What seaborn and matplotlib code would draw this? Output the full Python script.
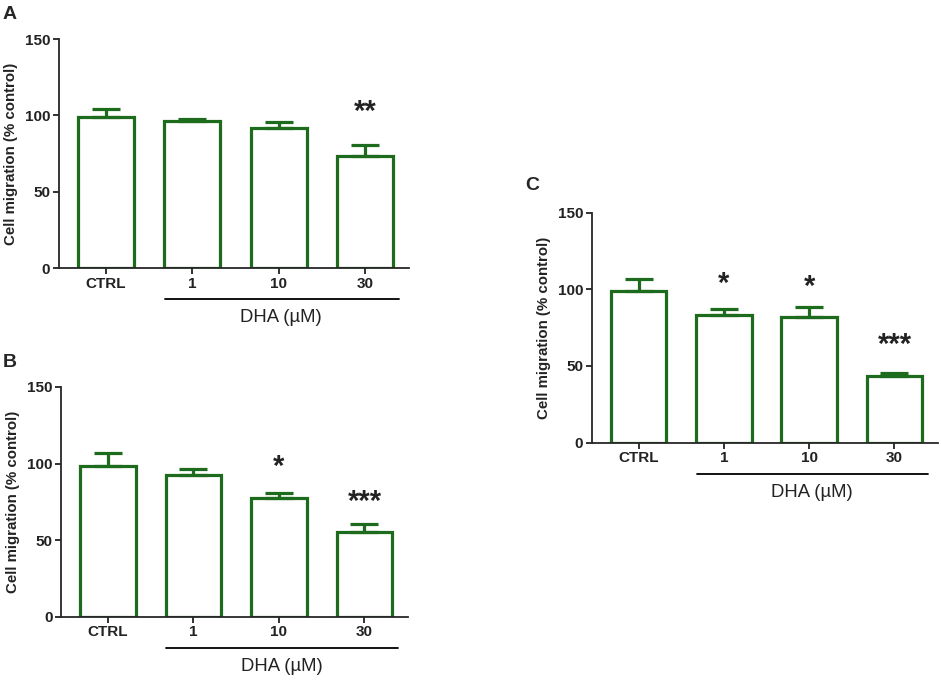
import matplotlib
matplotlib.use("Agg")
import matplotlib.pyplot as plt
import matplotlib.transforms as mtransforms
import seaborn as sns

# data
groups = ["CTRL", "1", "10", "30"]

a_mean = [99, 96.6, 92, 73.5]
a_upper = [104, 97.7, 95.7, 80.7]
a_stars = ["", "", "", "**"]
a_star_y = [0, 0, 0, 102.4]

b_mean = [98.5, 92.5, 77.7, 55.1]
b_upper = [106.6, 96.6, 80.5, 60.8]
b_stars = ["", "", "*", "***"]
b_star_y = [0, 0, 97.9, 75.1]

c_mean = [98.9, 83.5, 82, 43.5]
c_upper = [106.5, 87.4, 88.3, 45.2]
c_stars = ["", "*", "*", "***"]
c_star_y = [0, 103.3, 101.7, 63.7]

green = "#1d6b1d"

sns.set_style("ticks")
plt.rcParams["font.family"] = ["Liberation Sans", "DejaVu Sans"]

fig = plt.figure(figsize=(9.41, 6.81), dpi=100)


def panel(rect, means, upper, stars, star_y):
    ax = fig.add_axes(rect)
    sns.barplot(x=groups, y=means, color="white", saturation=1,
                edgecolor=green, linewidth=2.3, width=0.65, ax=ax)
    up = [u - m for u, m in zip(upper, means)]
    ax.errorbar(range(len(groups)), means, yerr=[[0] * len(up), up],
                fmt="none", ecolor=green, elinewidth=2.3, capsize=10,
                capthick=2.3, zorder=1)
    for i, s in enumerate(stars):
        if s:
            ax.text(i, star_y[i], s, ha="center", va="center",
                    fontsize=21, fontweight="bold", color="#222222")
    ax.set_ylim(0, 150)
    ax.set_xlim(-0.55, 3.51)
    ax.set_yticks([0, 50, 100, 150])
    sns.despine(ax=ax)
    ax.spines["left"].set_linewidth(1.3)
    ax.spines["bottom"].set_linewidth(1.3)
    ax.tick_params(axis="both", length=4, width=1.3, labelsize=11,
                   pad=2, colors="#222222")
    for t in ax.get_xticklabels() + ax.get_yticklabels():
        t.set_fontweight("bold")
    ax.set_ylabel("Cell migration (% control)", fontsize=10.8,
                  fontweight="bold", labelpad=5, color="#222222")
    ax.set_xlabel("")
    trans = mtransforms.blended_transform_factory(ax.transData, ax.transAxes)
    ax.plot([0.68, 3.39], [-0.135, -0.135], color="black", lw=1.3,
            transform=trans, clip_on=False)
    ax.text(2.03, -0.215, "DHA (µM)", ha="center", va="center",
            fontsize=13.3, transform=trans, color="#222222")
    return ax


panel([0.0622, 0.606, 0.3725, 0.3367], a_mean, a_upper, a_stars, a_star_y)
panel([0.0648, 0.094, 0.3688, 0.338], b_mean, b_upper, b_stars, b_star_y)
panel([0.6288, 0.35, 0.368, 0.3377], c_mean, c_upper, c_stars, c_star_y)

for x, y, letter in [(0.003, 0.979, "A"), (0.003, 0.467, "B"),
                     (0.558, 0.727, "C")]:
    fig.text(x, y, letter, fontsize=14, fontweight="bold",
             ha="left", va="center")

fig.savefig("out.png", dpi=100)
